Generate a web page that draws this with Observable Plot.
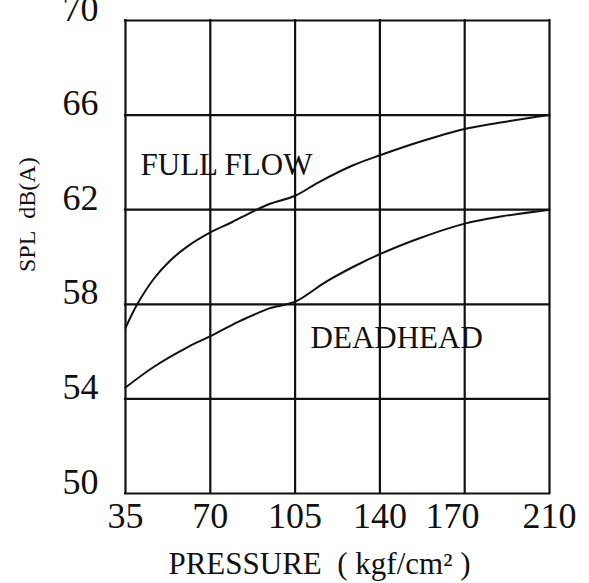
<!DOCTYPE html>
<html><head><meta charset="utf-8">
<script src="https://cdn.jsdelivr.net/npm/d3@7"></script>
<script src="https://cdn.jsdelivr.net/npm/@observablehq/plot@0.6"></script>
<style>body{margin:0;background:#fff;}</style>
</head><body><div id="chart"></div>
<script>
// Grid / ticks
const xGrid = [35, 70, 105, 140, 175, 210];
const xTickValues = [35, 70, 105, 140, 170, 210];
const xTickLabels = ["35", "70", "105", "140", "170", "210"];
const yTicks = [50, 54, 58, 62, 66, 70];

// FULL FLOW curve
const fullFlowPressure = [35, 39.85, 46.7, 53.6, 60.6, 70, 79.1, 87.5, 94.6, 105, 114.7, 128.7, 140, 155.2, 175, 190.5, 210];
const fullFlowSPL = [57.0, 58.0, 59.08, 59.86, 60.45, 61.04, 61.48, 61.92, 62.25, 62.59, 63.16, 63.87, 64.30, 64.83, 65.41, 65.70, 66.0];

// DEADHEAD curve
const deadheadPressure = [35, 46.6, 60.7, 70, 81.7, 89.6, 94.6, 105, 117.7, 130.1, 140, 155.2, 175, 190.5, 210];
const deadheadSPL = [54.48, 55.35, 56.19, 56.65, 57.27, 57.63, 57.84, 58.11, 58.95, 59.64, 60.12, 60.75, 61.41, 61.72, 62.0];

// Curve labels (annotation anchors in data units)
const curveLabels = ["FULL FLOW", "DEADHEAD"];
const labelPressure = [41.2, 111.4];
const labelSPL = [63.45, 56.17];

const xTitle = "PRESSURE\u00a0 ( kgf/cm\u00b2 )";
const yTitle = "SPL\u00a0 dB(A)";

const fullFlow = fullFlowPressure.map((p, i) => ({pressure: p, spl: fullFlowSPL[i]}));
const deadhead = deadheadPressure.map((p, i) => ({pressure: p, spl: deadheadSPL[i]}));
const labels = curveLabels.map((t, i) => ({text: t, pressure: labelPressure[i], spl: labelSPL[i]}));

const ink = "#111";
const chart = Plot.plot({
  width: 589, height: 583,
  marginLeft: 125, marginRight: 40, marginTop: 20, marginBottom: 90,
  style: {fontFamily: "'Liberation Serif', 'Times New Roman', serif", background: "#fff", color: ink},
  x: {domain: [35, 210]},
  y: {domain: [50, 70]},
  marks: [
    Plot.ruleX(xGrid, {stroke: ink, strokeWidth: 2.2, strokeLinecap: "square"}),
    Plot.ruleY(yTicks, {stroke: ink, strokeWidth: 2.2, strokeLinecap: "square"}),
    Plot.line(fullFlow, {x: "pressure", y: "spl", curve: "catmull-rom", stroke: ink, strokeWidth: 2}),
    Plot.line(deadhead, {x: "pressure", y: "spl", curve: "catmull-rom", stroke: ink, strokeWidth: 2}),
    Plot.axisX({ticks: xTickValues, tickFormat: d => xTickLabels[xTickValues.indexOf(d)], tickSize: 0, tickPadding: 9, fontSize: 36, label: null}),
    Plot.axisY({ticks: yTicks, tickSize: 0, tickPadding: 27, fontSize: 36, lineAnchor: "bottom", label: null}),
    Plot.text(labels, {x: "pressure", y: "spl", text: "text", textAnchor: "start", lineAnchor: "bottom", fontSize: 31, fill: ink}),
    Plot.text([xTitle], {text: d => d, frameAnchor: "bottom", dx: -18, dy: 80, lineAnchor: "bottom", fontSize: 31, fill: ink}),
    Plot.text([yTitle], {text: d => d, frameAnchor: "left", rotate: -90, dx: -98, dy: 15, fontSize: 24, fill: ink})
  ]
});
document.getElementById("chart").append(chart);
</script>
</body></html>
